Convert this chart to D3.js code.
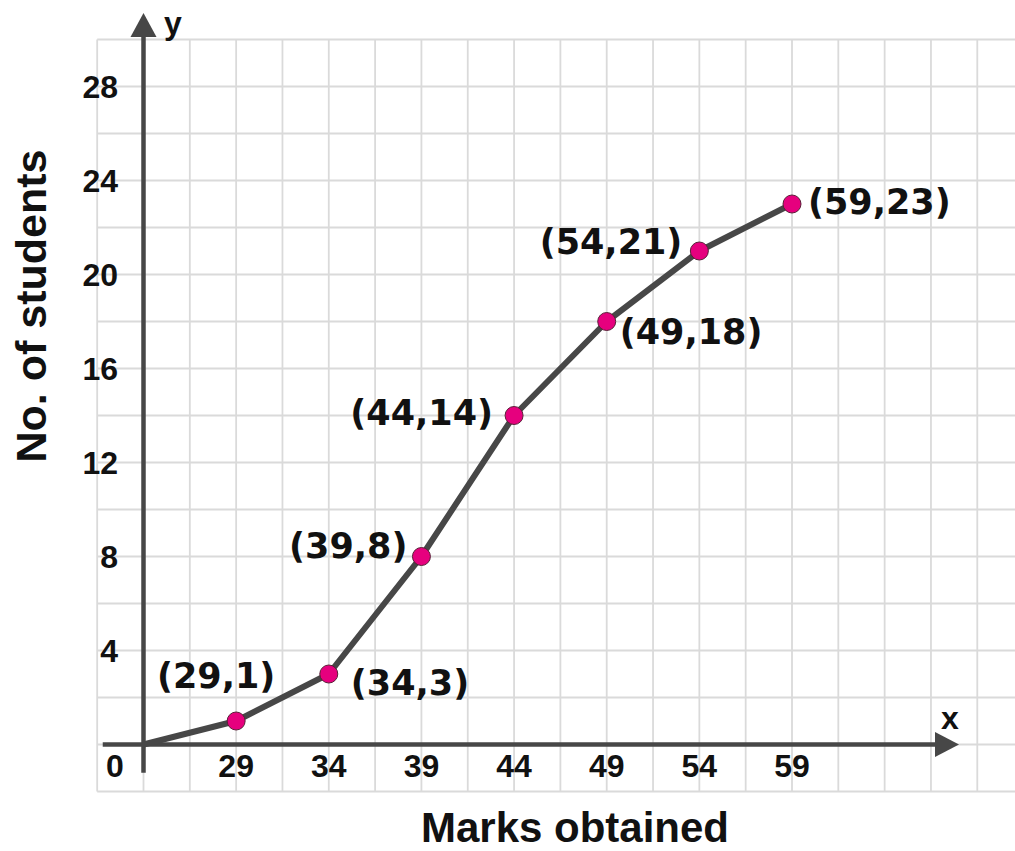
<!DOCTYPE html>
<html>
<head>
<meta charset="utf-8">
<script src="https://cdn.jsdelivr.net/npm/d3@7"></script>
<style>
	html, body { margin: 0; padding: 0; background: #fff; }
	svg { display: block; }
</style>
</head>
<body>
<div id="chart"></div>
<script>
// Data
const marks = [29, 34, 39, 44, 49, 54, 59];
const students = [1, 3, 8, 14, 18, 21, 23];
const xTicks = [29, 34, 39, 44, 49, 54, 59];
const yTicks = [4, 8, 12, 16, 20, 24, 28];
const origin = [24, 0]; // axis break: origin stands for 24 marks

// Label placement (pixels, relative to point)
const labelOffsets = [
	{ dx: -20, dy: -33, anchor: 'middle' },
	{ dx: 22, dy: 21, anchor: 'start' },
	{ dx: -14, dy: 1, anchor: 'end' },
	{ dx: -21, dy: 9, anchor: 'end' },
	{ dx: 13, dy: 22, anchor: 'start' },
	{ dx: -17, dy: 3, anchor: 'end' },
	{ dx: 16, dy: 10, anchor: 'start' },
];

// Attribute
const width = 1015;
const height = 851;
const axisColor = '#474747';
const gridColor = '#dadada';
const pointColor = '#e6007e';
const font = 'Liberation Sans, Arial, Helvetica, sans-serif';

const svg = d3.select('#chart').append('svg')
	.attr('width', width).attr('height', height)
	.attr('viewBox', [0, 0, width, height]);

const x = d3.scaleLinear().domain([24, 59]).range([143.5, 792]);
const y = d3.scaleLinear().domain([0, 28]).range([744.5, 86.5]);

// Grid, every 2.5 marks and every 2 students
const gridLeft = x(21.5);
const gridTop = y(30);
const gridBottom = y(-2);
const vLines = d3.range(21.5, 72, 2.5).filter((v) => x(v) <= width);
const hLines = d3.range(-2, 31, 2);

const grid = svg.append('g').attr('stroke', gridColor).attr('stroke-width', 1.8);
grid.selectAll('line.v').data(vLines).join('line')
	.attr('class', 'v')
	.attr('x1', (d) => x(d)).attr('x2', (d) => x(d))
	.attr('y1', gridTop).attr('y2', gridBottom);
grid.selectAll('line.h').data(hLines).join('line')
	.attr('class', 'h')
	.attr('x1', gridLeft).attr('x2', width)
	.attr('y1', (d) => y(d)).attr('y2', (d) => y(d));

// Axes with arrows
const axes = svg.append('g');
axes.append('line')
	.attr('x1', x(21.8)).attr('x2', 940)
	.attr('y1', y(0)).attr('y2', y(0))
	.attr('stroke', axisColor).attr('stroke-width', 4.5);
axes.append('path')
	.attr('d', `M935,${y(0) - 12.5}L959,${y(0)}L935,${y(0) + 12.5}Z`)
	.attr('fill', axisColor);
axes.append('line')
	.attr('x1', x(24)).attr('x2', x(24))
	.attr('y1', y(-1.2)).attr('y2', 34)
	.attr('stroke', axisColor).attr('stroke-width', 4.5);
axes.append('path')
	.attr('d', `M${x(24) - 13},37L${x(24)},13L${x(24) + 13},37Z`)
	.attr('fill', axisColor);

// Tick labels
const tickFont = 32;
svg.append('g').selectAll('text').data(xTicks).join('text')
	.attr('x', (d) => x(d)).attr('y', 777)
	.attr('text-anchor', 'middle')
	.attr('font-family', font).attr('font-weight', 'bold').attr('font-size', tickFont)
	.attr('fill', '#111')
	.text((d) => d);
svg.append('g').selectAll('text').data(yTicks).join('text')
	.attr('x', 118).attr('y', (d) => y(d) + 11.5)
	.attr('text-anchor', 'end')
	.attr('font-family', font).attr('font-weight', 'bold').attr('font-size', tickFont)
	.attr('fill', '#111')
	.text((d) => d);
svg.append('text')
	.attr('x', 115).attr('y', 777)
	.attr('text-anchor', 'middle')
	.attr('font-family', font).attr('font-weight', 'bold').attr('font-size', tickFont)
	.attr('fill', '#111')
	.text('0');

// Axis letters and titles
svg.append('text')
	.attr('x', 164).attr('y', 34)
	.attr('font-family', font).attr('font-weight', 'bold').attr('font-size', 32)
	.attr('fill', '#111').text('y');
svg.append('text')
	.attr('x', 941).attr('y', 729)
	.attr('font-family', font).attr('font-weight', 'bold').attr('font-size', 32)
	.attr('fill', '#111').text('x');
svg.append('text')
	.attr('x', 575).attr('y', 842)
	.attr('text-anchor', 'middle')
	.attr('font-family', font).attr('font-weight', 'bold').attr('font-size', 42)
	.attr('fill', '#111').text('Marks obtained');
svg.append('text')
	.attr('transform', 'translate(46,306) rotate(-90)')
	.attr('text-anchor', 'middle')
	.attr('font-family', font).attr('font-weight', 'bold').attr('font-size', 43)
	.attr('fill', '#111').text('No. of students');

// Ogive line
const points = marks.map((m, i) => [m, students[i]]);
const line = d3.line().x((d) => x(d[0])).y((d) => y(d[1]));
svg.append('path')
	.datum([origin, ...points])
	.attr('d', line)
	.attr('fill', 'none')
	.attr('stroke', axisColor)
	.attr('stroke-width', 6)
	.attr('stroke-linejoin', 'round');

// Points
svg.append('g').selectAll('circle').data(points).join('circle')
	.attr('cx', (d) => x(d[0])).attr('cy', (d) => y(d[1]))
	.attr('r', 9)
	.attr('fill', pointColor)
	.attr('stroke', '#5a2038').attr('stroke-width', 1);

// Point labels
svg.append('g').selectAll('text').data(points).join('text')
	.attr('x', (d, i) => x(d[0]) + labelOffsets[i].dx)
	.attr('y', (d, i) => y(d[1]) + labelOffsets[i].dy)
	.attr('text-anchor', (d, i) => labelOffsets[i].anchor)
	.attr('font-family', 'DejaVu Sans, sans-serif').attr('font-weight', 'bold').attr('font-size', 35)
	.attr('fill', '#111')
	.text((d) => `(${d[0]},${d[1]})`);
</script>
</body>
</html>
